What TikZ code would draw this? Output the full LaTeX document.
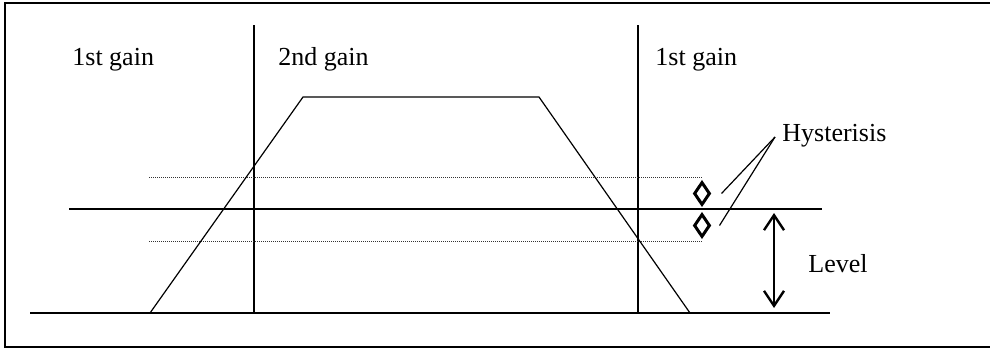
\documentclass[tikz,border=0pt]{standalone}
\usepackage{fontspec}
\setmainfont{Liberation Serif}
\usetikzlibrary{arrows.meta, shapes.geometric, positioning}
\tikzset{
  lbl/.style={font=\fontsize{13}{15}\selectfont, inner sep=0pt, anchor=base west},
  plain/.style={line width=0.6pt},
  dotline/.style={line width=0.5pt, dash pattern=on 0.5pt off 0.5pt, black!80},
  marker/.style={draw, diamond, line width=1.5pt, minimum width=8pt, minimum height=11.5pt, inner sep=0pt},
  dbl/.style={{Straight Barb[length=7.5pt,width=10pt]}-{Straight Barb[length=7.5pt,width=10pt]}, line width=1.2pt},
}
\begin{document}
\begin{tikzpicture}[x=0.5pt, y=-0.5pt]
  \useasboundingbox (0,0) rectangle (990,349);
  % frame
  \draw[line width=1pt] (995,3) -- (5,3) -- (5,347) -- (995,347);

  % gain regions
  \node[lbl] (g1) at (72,65) {1st gain};
  \node[lbl] (g2) at (278,65) {2nd gain};
  \node[lbl] (g3) at (655,65) {1st gain};
  \draw[plain] (254,25) -- (254,313);
  \draw[plain] (638,25) -- (638,313);

  % axis and level lines
  \draw[plain] (30,313) -- (830,313);
  \draw[plain] (69,209) -- (822,209);
  \draw[dotline] (149,177) -- (702,177);
  \draw[dotline] (149,241) -- (702,241);

  % speed profile
  \draw[plain] (150,313) -- (303,97) -- (539,97) -- (690,313);

  % hysteresis markers
  \node[marker] (m1) at (702,193.5) {};
  \node[marker] (m2) at (702,225.5) {};
  \node[lbl] (hys) at (782,141) {Hysterisis};
  \draw[plain] ([xshift=5pt]m1.east) -- ([xshift=-3.5pt,yshift=2pt]hys.base west);
  \draw[plain] ([xshift=4pt]m2.east) -- ([xshift=-3.5pt,yshift=2pt]hys.base west);

  % level
  \coordinate (lvtop) at (774,213);
  \coordinate (lvbot) at (774,308);
  \draw[dbl] (lvtop) -- (lvbot);
  \node[lbl] (lv) at (808,272) {Level};
\end{tikzpicture}
\end{document}
